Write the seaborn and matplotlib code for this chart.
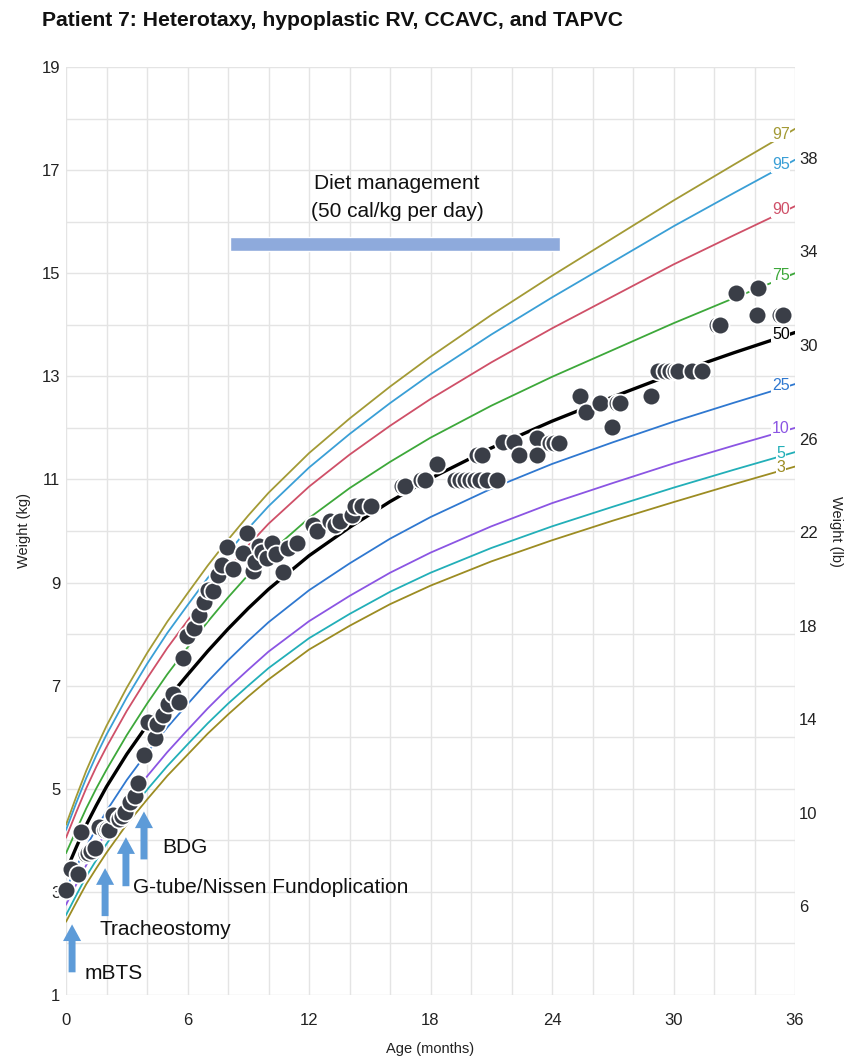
import numpy as np
import pandas as pd
import matplotlib
matplotlib.use("Agg")
import matplotlib.pyplot as plt
from matplotlib.ticker import MultipleLocator
import seaborn as sns

# ---------------- data ----------------
title = "Patient 7: Heterotaxy, hypoplastic RV, CCAVC, and TAPVC"

ages = [0, 0.5, 1, 1.5, 2, 3, 4, 5, 6, 7, 8, 9, 10, 12, 14, 16, 18, 21, 24, 27, 30, 33, 36]
p97 = [4.30, 4.84, 5.35, 5.80, 6.22, 6.96, 7.63, 8.24, 8.79, 9.33, 9.83, 10.30, 10.74, 11.51, 12.18, 12.80, 13.38, 14.19, 14.95, 15.68, 16.41, 17.11, 17.80]
p95 = [4.20, 4.72, 5.21, 5.65, 6.05, 6.77, 7.42, 8.02, 8.56, 9.09, 9.58, 10.05, 10.48, 11.23, 11.88, 12.48, 13.04, 13.81, 14.53, 15.22, 15.91, 16.56, 17.20]
p90 = [4.05, 4.54, 5.01, 5.43, 5.81, 6.51, 7.14, 7.73, 8.26, 8.78, 9.26, 9.72, 10.14, 10.86, 11.48, 12.04, 12.56, 13.27, 13.93, 14.55, 15.17, 15.74, 16.30]
p75 = [3.75, 4.19, 4.62, 5.01, 5.37, 6.04, 6.65, 7.22, 7.74, 8.24, 8.71, 9.15, 9.56, 10.25, 10.83, 11.34, 11.81, 12.43, 12.99, 13.51, 14.03, 14.52, 15.00]
p50 = [3.40, 3.86, 4.30, 4.68, 5.04, 5.67, 6.23, 6.74, 7.21, 7.67, 8.10, 8.50, 8.87, 9.52, 10.07, 10.57, 11.02, 11.61, 12.13, 12.60, 13.05, 13.46, 13.85]
p25 = [3.05, 3.47, 3.88, 4.23, 4.57, 5.17, 5.70, 6.19, 6.64, 7.08, 7.49, 7.87, 8.23, 8.85, 9.37, 9.85, 10.27, 10.82, 11.30, 11.72, 12.12, 12.49, 12.85]
p10 = [2.75, 3.14, 3.52, 3.85, 4.17, 4.74, 5.24, 5.71, 6.14, 6.56, 6.95, 7.31, 7.66, 8.25, 8.74, 9.19, 9.58, 10.09, 10.54, 10.93, 11.31, 11.66, 12.00]
p5 = [2.55, 2.93, 3.30, 3.62, 3.93, 4.49, 4.98, 5.44, 5.86, 6.27, 6.65, 7.00, 7.34, 7.92, 8.39, 8.82, 9.19, 9.67, 10.09, 10.47, 10.84, 11.19, 11.53]
p3 = [2.42, 2.79, 3.15, 3.46, 3.76, 4.31, 4.79, 5.25, 5.66, 6.07, 6.44, 6.79, 7.12, 7.70, 8.16, 8.58, 8.94, 9.41, 9.82, 10.20, 10.56, 10.91, 11.25]

pct_names = ["97", "95", "90", "75", "50", "25", "10", "5", "3"]
pct_values = [p97, p95, p90, p75, p50, p25, p10, p5, p3]

pt_age = [0.0, 0.23, 0.58, 0.74, 0.99, 1.1, 1.22, 1.45, 1.65, 1.93, 2.0, 2.14, 2.34, 2.63, 2.78, 2.91,
          3.16, 3.41, 3.57, 3.87, 4.03, 4.39, 4.51, 4.81, 5.05, 5.30, 5.60, 5.79,
          5.99, 6.32, 6.58, 6.83, 6.99, 7.27, 7.52, 7.69, 7.93, 8.23, 8.76, 8.95, 9.22, 9.33,
          9.53, 9.66, 9.91, 10.16, 10.37, 10.73, 10.98, 11.42,
          12.2, 12.38, 13.04, 13.28, 13.53, 14.1, 14.27, 14.6, 15.04,
          16.6, 16.74, 17.55, 17.73, 18.30,
          19.21, 19.46, 19.70, 19.95, 20.20, 20.44, 20.77, 21.27,
          20.30, 20.53, 21.60, 22.12, 22.39, 23.28, 23.24, 23.90, 24.10, 24.36,
          25.38, 25.68, 26.37, 26.95, 27.19, 27.36, 28.89,
          29.25, 29.60, 29.83, 30.05, 30.24, 30.90, 31.39,
          32.13, 32.30, 33.09, 34.19, 34.10, 35.26, 35.42]
pt_kg = [3.04, 3.44, 3.34, 4.16, 3.73, 3.76, 3.79, 3.86, 4.25, 4.21, 4.22, 4.20, 4.49, 4.41, 4.48, 4.55,
         4.74, 4.86, 5.12, 5.65, 6.29, 5.98, 6.25, 6.44, 6.64, 6.83, 6.68, 7.54,
         7.97, 8.12, 8.38, 8.62, 8.85, 8.83, 9.15, 9.35, 9.69, 9.27, 9.57, 9.96, 9.22, 9.39,
         9.70, 9.59, 9.48, 9.77, 9.56, 9.20, 9.67, 9.77,
         10.12, 10.00, 10.19, 10.12, 10.19, 10.32, 10.48, 10.48, 10.48,
         10.88, 10.88, 10.98, 10.98, 11.29,
         10.98, 10.98, 10.98, 10.98, 10.98, 10.98, 10.98, 10.98,
         11.48, 11.48, 11.72, 11.72, 11.48, 11.80, 11.48, 11.71, 11.71, 11.71,
         12.61, 12.30, 12.49, 12.01, 12.49, 12.49, 12.61,
         13.10, 13.10, 13.10, 13.10, 13.10, 13.10, 13.10,
         14.00, 14.00, 14.61, 14.71, 14.19, 14.19, 14.19]

events = ["mBTS", "Tracheostomy", "G-tube/Nissen Fundoplication", "BDG"]
event_age = [0.3, 1.93, 2.96, 3.85]

diet_start, diet_end, diet_level = 8.1, 24.4, 15.57
diet_text = ["Diet management", "(50 cal/kg per day)"]

x_ticks = [0, 6, 12, 18, 24, 30, 36]
y_ticks = [1, 3, 5, 7, 9, 11, 13, 15, 17, 19]
lb_ticks = [6, 10, 14, 18, 22, 26, 30, 34, 38]
KG_TO_LB = 2.20462

# ---------------- style ----------------
sns.set_theme(style="white")
plt.rcParams["font.family"] = ["Liberation Sans", "DejaVu Sans"]

colors = {"97": "#a39a35", "95": "#3a9fd6", "90": "#cf5068", "75": "#3da83a",
          "50": "#000000", "25": "#2f78d0", "10": "#8b55e3", "5": "#22afb8", "3": "#9c8c22"}

fig = plt.figure(figsize=(8.49, 10.61), dpi=100)
ax = fig.add_axes([66 / 849, 1 - 995 / 1061, (795 - 66) / 849, (995 - 67) / 1061])

# percentile curves
curves = pd.DataFrame({"age": np.tile(ages, len(pct_names)),
                       "kg": np.concatenate(pct_values),
                       "pct": np.repeat(pct_names, len(ages))})
for name in pct_names:
    sub = curves[curves.pct == name]
    sns.lineplot(data=sub, x="age", y="kg", color=colors[name],
                 lw=2.4 if name == "50" else 1.3, ax=ax, zorder=3, legend=False)

# patient points
pts = pd.DataFrame({"age": pt_age, "kg": pt_kg})
sns.scatterplot(data=pts, x="age", y="kg", s=165, color="#3a3e47",
                edgecolor="white", linewidth=1.3, ax=ax, zorder=5, clip_on=False)

# percentile labels
for name, vals in zip(pct_names, pct_values):
    yv = np.interp(35.3, ages, vals) + 0.06
    ax.text(35.3, yv, name, color=colors[name], fontsize=11.5, ha="center", va="center",
            zorder=6, bbox=dict(facecolor="white", edgecolor="none", pad=0.6))

# diet bar
ax.barh(y=diet_level, width=diet_end - diet_start, left=diet_start, height=0.27,
        color="#8eaadc", zorder=4)
ax.text(16.35, 16.75, diet_text[0], fontsize=15, ha="center", va="center", color="#111111")
ax.text(16.35, 16.19, diet_text[1], fontsize=15, ha="center", va="center", color="#111111")

# events arrows
arrow_tail = [1.44, 2.53, 3.11, 3.63]
arrow_tip = [2.37, 3.46, 4.06, 4.56]
text_pos = [(0.94, 1.42), (1.63, 2.28), (3.3, 3.09), (4.74, 3.86)]
for lab, xa, t0, t1, (tx, ty) in zip(events, event_age, arrow_tail, arrow_tip, text_pos):
    ax.annotate("", xy=(xa, t1), xytext=(xa, t0),
                arrowprops=dict(facecolor="#5d9bd8", edgecolor="none", width=5,
                                headwidth=13, headlength=12, shrink=0), zorder=6)
    ax.text(tx, ty, lab, fontsize=15, ha="left", va="center", color="#111111", zorder=6)

# axes
ax.set_xlim(0, 36)
ax.set_ylim(1, 19)
ax.set_xticks(x_ticks)
ax.xaxis.set_minor_locator(MultipleLocator(2))
ax.set_yticks(y_ticks)
ax.yaxis.set_minor_locator(MultipleLocator(1))
ax.grid(True, which="both", color="#e4e4e4", lw=1.0, zorder=0)
ax.set_axisbelow(True)
ax.tick_params(which="both", length=0, labelsize=12, colors="#222222")
ax.tick_params(axis="y", pad=4)
ax.tick_params(axis="x", pad=13)
for s in ax.spines.values():
    s.set_visible(False)
ax.set_xlabel("Age (months)", fontsize=10.5, labelpad=10, color="#222222")
ax.set_ylabel("Weight (kg)", fontsize=10.5, labelpad=8, color="#222222")

ax2 = ax.twinx()
ax2.set_ylim(1 * KG_TO_LB, 19 * KG_TO_LB)
ax2.set_yticks(lb_ticks)
ax2.tick_params(length=0, labelsize=12, pad=3, colors="#222222")
for s in ax2.spines.values():
    s.set_visible(False)
ax2.grid(False)
ax2.set_ylabel("Weight (lb)", fontsize=10.5, rotation=270, labelpad=18, color="#222222")

fig.text(42 / 849, 1 - 20 / 1061, title, fontsize=15.2, fontweight="bold", ha="left", va="center",
         color="#111111")

fig.savefig("out.png", dpi=100, facecolor="white")
